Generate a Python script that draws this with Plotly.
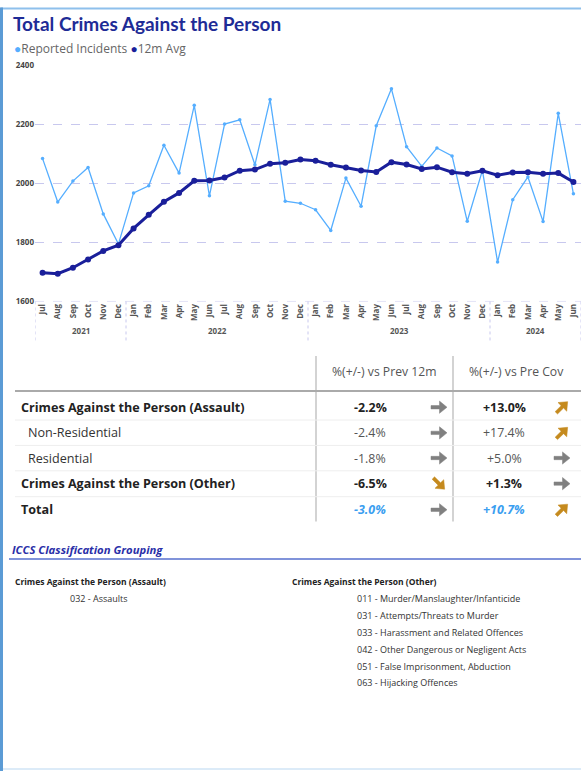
import math
import plotly.graph_objects as go

W, H = 581, 776

# ---------------- data ----------------
months = ["Jul", "Aug", "Sep", "Oct", "Nov", "Dec",
          "Jan", "Feb", "Mar", "Apr", "May", "Jun", "Jul", "Aug", "Sep", "Oct", "Nov", "Dec",
          "Jan", "Feb", "Mar", "Apr", "May", "Jun", "Jul", "Aug", "Sep", "Oct", "Nov", "Dec",
          "Jan", "Feb", "Mar", "Apr", "May", "Jun"]
years = ["2021", "2022", "2023", "2024"]
months_per_year = [6, 12, 12, 6]

reported = [2083, 1936, 2007, 2053, 1896, 1794,
            1967, 1991, 2128, 2034, 2263, 1957, 2200, 2214, 2062, 2283, 1939, 1932,
            1910, 1840, 2017, 1922, 2194, 2319, 2123, 2057, 2119, 2092, 1871, 2043,
            1733, 1944, 2021, 1870, 2236, 1964]
avg12 = [1697, 1694, 1714, 1742, 1771, 1790,
         1847, 1893, 1937, 1967, 2008, 2009, 2019, 2042, 2046, 2066, 2069, 2080,
         2076, 2062, 2053, 2043, 2038, 2071, 2063, 2048, 2054, 2037, 2032, 2042,
         2027, 2036, 2037, 2032, 2034, 2004]
y_ticks = [1600, 1800, 2000, 2200, 2400]

row_labels = ["Crimes Against the Person (Assault)", "Non-Residential", "Residential",
              "Crimes Against the Person (Other)", "Total"]
row_kind = ["group", "sub", "sub", "group", "total"]
vs_prev = ["-2.2%", "-2.4%", "-1.8%", "-6.5%", "-3.0%"]
vs_precov = ["+13.0%", "+17.4%", "+5.0%", "+1.3%", "+10.7%"]
trend_prev = ["flat", "flat", "flat", "down", "flat"]
trend_precov = ["up", "up", "flat", "flat", "up"]
col_headers = ["%(+/-) vs Prev 12m", "%(+/-) vs Pre Cov"]

assault_title = "Crimes Against the Person (Assault)"
assault_codes = ["032 - Assaults"]
other_title = "Crimes Against the Person (Other)"
other_codes = ["011 - Murder/Manslaughter/Infanticide",
               "031 - Attempts/Threats to Murder",
               "033 - Harassment and Related Offences",
               "042 - Other Dangerous or Negligent Acts",
               "051 - False Imprisonment, Abduction",
               "063 - Hijacking Offences"]

# ---------------- styling ----------------
LIGHT = "#55AEFF"
DARK = "#1A1F9A"
NAVY = "#1E2B96"
FONT = "Open Sans"


def X(px):
    return px / W


def Y(py):
    return 1 - py / H


xpos = list(range(len(months)))

fig = go.Figure()
fig.add_trace(go.Scatter(x=xpos, y=reported, mode="lines+markers",
                         line=dict(color=LIGHT, width=1.3),
                         marker=dict(size=3.5, color=LIGHT),
                         name="Reported Incidents", showlegend=False))
fig.add_trace(go.Scatter(x=xpos, y=avg12, mode="lines+markers",
                         line=dict(color=DARK, width=3),
                         marker=dict(size=6, color=DARK),
                         name="12m Avg", showlegend=False))

plot_top, plot_bot, plot_left = 59.7, 299.7, 35.0

fig.update_layout(
    width=W, height=H, margin=dict(l=0, r=0, t=0, b=0),
    paper_bgcolor="white", plot_bgcolor="white",
    font=dict(family=FONT),
    xaxis=dict(domain=[X(plot_left), 1], range=[-0.5, len(months) - 0.5],
               tickmode="array", tickvals=xpos, ticktext=months, tickangle=-90,
               tickfont=dict(size=8, color="#555555", family=FONT, weight="bold"),
               showgrid=False, zeroline=False, showline=False, ticks="",
               fixedrange=True),
    yaxis=dict(domain=[Y(plot_bot), Y(plot_top)], range=[y_ticks[0], y_ticks[-1]],
               tickmode="array", tickvals=y_ticks,
               tickfont=dict(size=8, color="#444444", family=FONT, weight="bold"),
               showgrid=True, gridcolor="#C8C8EE", griddash="dash", gridwidth=1,
               zeroline=False, showline=False, ticks="", fixedrange=True),
)

shapes = []
# frame
shapes.append(dict(type="line", xref="paper", yref="paper", x0=X(0.5), x1=X(W), y0=Y(2.5), y1=Y(2.5),
                   line=dict(color="#8EC0EC", width=2)))
shapes.append(dict(type="line", xref="paper", yref="paper", x0=X(0), x1=X(W), y0=Y(774), y1=Y(774),
                   line=dict(color="#DCEBF8", width=2)))
shapes.append(dict(type="line", xref="paper", yref="paper", x0=X(1.5), x1=X(1.5), y0=Y(1.5), y1=Y(776),
                   line=dict(color="#5B9BD5", width=3)))
# gridline at bottom of plot (1600)
shapes.append(dict(type="line", xref="paper", yref="y", x0=X(plot_left), x1=1, y0=y_ticks[0], y1=y_ticks[0],
                   line=dict(color="#C8C8EE", width=1, dash="dash")))
# year separators
start = 0
bounds = [-0.5]
for n in months_per_year:
    start += n
    bounds.append(start - 0.5)
for b in bounds:
    shapes.append(dict(type="line", xref="x", yref="paper", x0=b, x1=b, y0=Y(plot_bot), y1=Y(340),
                       line=dict(color="#C8C8EE", width=1, dash="dot")))

annotations = []
# year labels
start = 0
for yr, n in zip(years, months_per_year):
    annotations.append(dict(x=start + (n - 1) / 2, y=Y(329), xref="x", yref="paper", text=yr,
                            showarrow=False, font=dict(size=8, color="#555555", family=FONT, weight="bold"),
                            xanchor="center", yanchor="middle"))
    start += n

# title & legend
annotations.append(dict(x=X(11), y=Y(17.5), xref="paper", yref="paper", xanchor="left", yanchor="middle",
                        text="<b>Total Crimes Against the Person</b>", showarrow=False,
                        font=dict(family="Lato", size=19, color=NAVY)))
annotations.append(dict(x=X(12), y=Y(43), xref="paper", yref="paper", xanchor="left", yanchor="middle",
                        text=f"<span style='color:{LIGHT}'>●</span>Reported Incidents "
                             f"<span style='color:{DARK}'>●</span>12m Avg",
                        showarrow=False, font=dict(family=FONT, size=12, color="#666666")))

# ---------------- table ----------------
col_line_x = [316, 453]
hdr_cx = [384, 516]
val_cx = [370, 504]
arr_cx = [439, 562]
row_y = [407, 433, 458.5, 484.5, 511]

for cx, t in zip(hdr_cx, col_headers):
    annotations.append(dict(x=X(cx), y=Y(371), xref="paper", yref="paper", text=t, showarrow=False,
                            xanchor="center", yanchor="middle", font=dict(family=FONT, size=12.2, color="#555555")))
for lx in col_line_x:
    shapes.append(dict(type="line", xref="paper", yref="paper", x0=X(lx), x1=X(lx), y0=Y(355), y1=Y(523),
                       line=dict(color="#C4C4C4", width=1.5)))
shapes.append(dict(type="line", xref="paper", yref="paper", x0=X(15), x1=1, y0=Y(390.5), y1=Y(390.5),
                   line=dict(color="#AAAAAA", width=2)))
for i in range(len(row_y) - 1):
    yy = (row_y[i] + row_y[i + 1]) / 2
    shapes.append(dict(type="line", xref="paper", yref="paper", x0=X(15), x1=1, y0=Y(yy), y1=Y(yy),
                       line=dict(color="#EEEEEE", width=1)))

# arrow icon outline (pixel units, pointing right, centred on 0,0)
ARROW_POLY = [(-8, -1.7), (0.5, -1.7), (0.5, -6.2), (8, 0), (0.5, 6.2), (0.5, 1.7), (-8, 1.7)]


def arrow_path(cx, cy, angle_deg):
    a = math.radians(angle_deg)
    pts = []
    for px, py in ARROW_POLY:
        rx = px * math.cos(a) - py * math.sin(a)
        ry = px * math.sin(a) + py * math.cos(a)
        pts.append((X(cx + rx), Y(cy + ry)))
    return "M " + " L ".join(f"{x:.5f},{y:.5f}" for x, y in pts) + " Z"


TREND_STYLE = {"flat": (0, "#808080"), "up": (-45, "#C58A1E"), "down": (45, "#C58A1E")}

for i, lab in enumerate(row_labels):
    kind = row_kind[i]
    cy = row_y[i]
    if kind == "sub":
        ltxt, lx, lcol = lab, 26, "#333333"
    else:
        ltxt, lx, lcol = f"<b>{lab}</b>", 19, "#222222"
    annotations.append(dict(x=X(lx), y=Y(cy), xref="paper", yref="paper", text=ltxt, showarrow=False,
                            xanchor="left", yanchor="middle", font=dict(family=FONT, size=12.6, color=lcol)))
    for j, (vals, trends) in enumerate([(vs_prev, trend_prev), (vs_precov, trend_precov)]):
        v = vals[i]
        if kind == "sub":
            vt, vc = v, "#555555"
        elif kind == "group":
            vt, vc = f"<b>{v}</b>", "#222222"
        else:
            vt, vc = f"<b><i>{v}</i></b>", "#3A9EF0"
        annotations.append(dict(x=X(val_cx[j]), y=Y(cy), xref="paper", yref="paper", text=vt, showarrow=False,
                                xanchor="center", yanchor="middle", font=dict(family=FONT, size=12.4, color=vc)))
        ang, col = TREND_STYLE[trends[i]]
        shapes.append(dict(type="path", xref="paper", yref="paper", path=arrow_path(arr_cx[j], cy, ang),
                           fillcolor=col, line=dict(color=col, width=0.5)))

# ---------------- ICCS section ----------------
annotations.append(dict(x=X(10), y=Y(551), xref="paper", yref="paper", xanchor="left", yanchor="middle",
                        text="<b><i>ICCS Classification Grouping</i></b>", showarrow=False,
                        font=dict(family=FONT, size=11.3, color="#2A2FA8")))
shapes.append(dict(type="line", xref="paper", yref="paper", x0=X(9), x1=1, y0=Y(561), y1=Y(561),
                   line=dict(color="#8093DA", width=2)))

annotations.append(dict(x=X(13), y=Y(583.5), xref="paper", yref="paper", xanchor="left", yanchor="middle",
                        text=f"<b>{assault_title}</b>", showarrow=False,
                        font=dict(family=FONT, size=8.5, color="#222222")))
for k, c in enumerate(assault_codes):
    annotations.append(dict(x=X(68), y=Y(600.7 + 17.2 * k), xref="paper", yref="paper", xanchor="left",
                            yanchor="middle", text=c, showarrow=False,
                            font=dict(family=FONT, size=9, color="#333333")))
annotations.append(dict(x=X(290), y=Y(583.5), xref="paper", yref="paper", xanchor="left", yanchor="middle",
                        text=f"<b>{other_title}</b>", showarrow=False,
                        font=dict(family=FONT, size=8.5, color="#222222")))
for k, c in enumerate(other_codes):
    annotations.append(dict(x=X(355), y=Y(600.7 + 17.2 * k), xref="paper", yref="paper", xanchor="left",
                            yanchor="middle", text=c, showarrow=False,
                            font=dict(family=FONT, size=9, color="#333333")))

fig.update_layout(shapes=shapes, annotations=annotations)
fig.write_html("out.html", config={"displayModeBar": False},
               post_script="document.body.style.margin='0';document.body.style.overflow='hidden';")
